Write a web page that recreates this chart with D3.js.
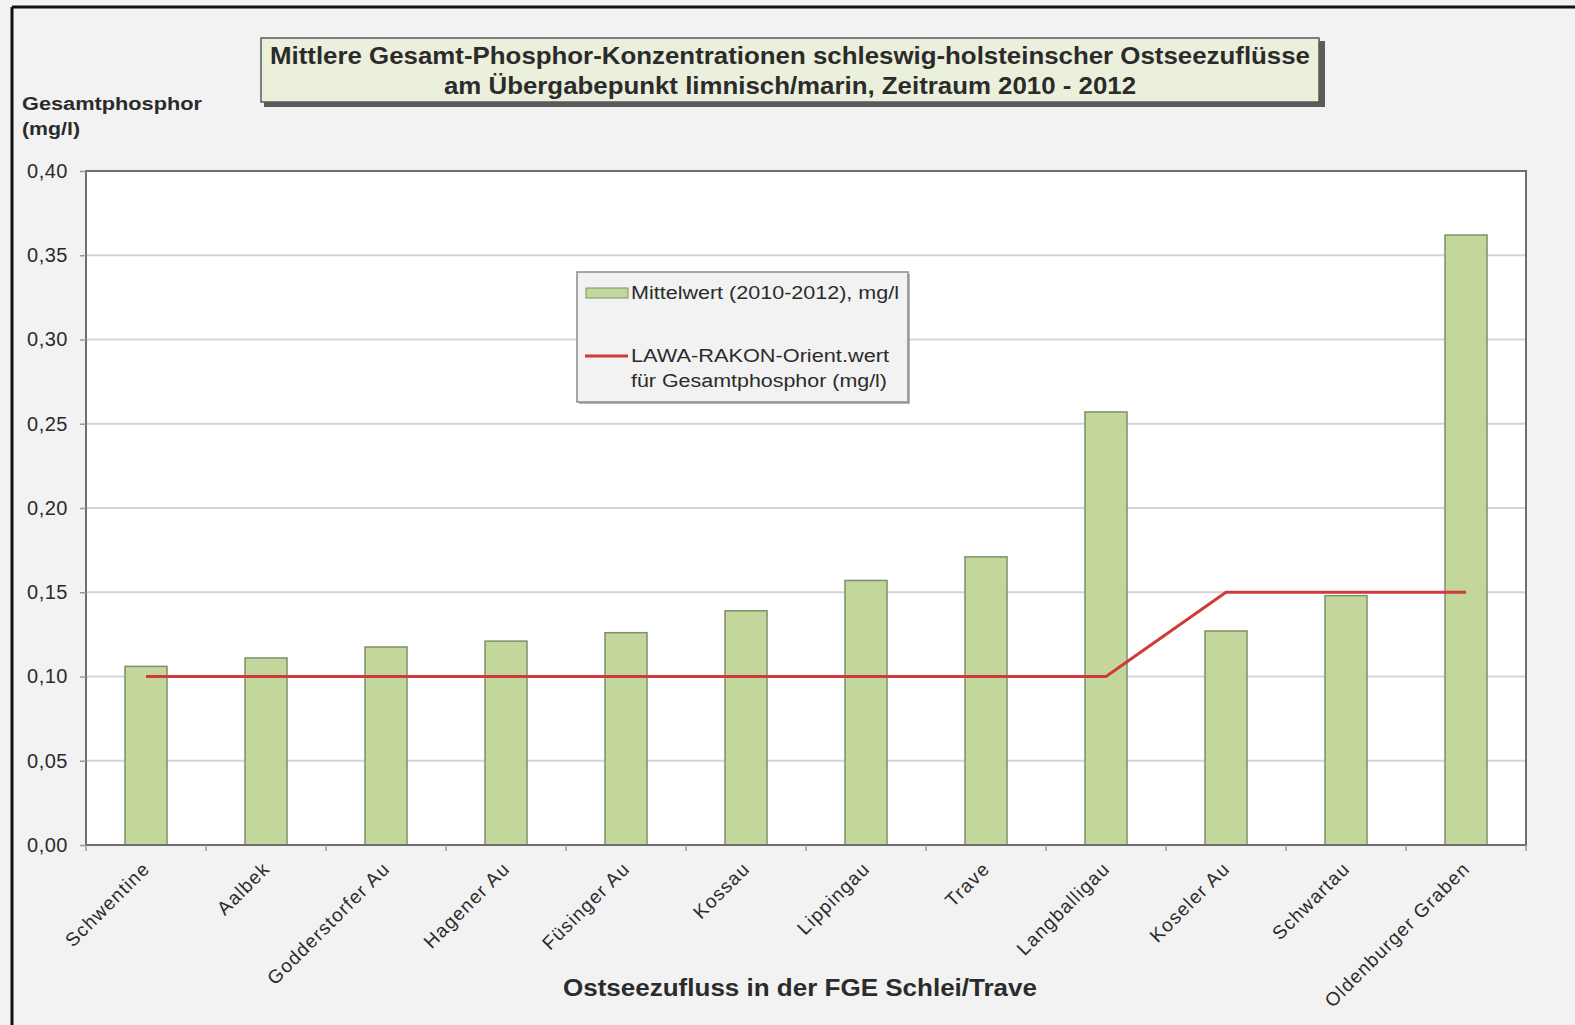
<!DOCTYPE html>
<html>
<head>
<meta charset="utf-8">
<script src="https://cdn.jsdelivr.net/npm/d3@7"></script>
<style>
  html, body { margin: 0; padding: 0; background: #f2f2f2; }
  svg { display: block; }
  text { font-family: "Liberation Sans", Arial, sans-serif; fill: #2b2b2b; }
</style>
</head>
<body>
<svg id="chart" width="1575" height="1025"></svg>
<script>
// Ostseezuflüsse (FGE Schlei/Trave), mean total phosphorus 2010–2012
const rivers = ["Schwentine", "Aalbek", "Godderstorfer Au", "Hagener Au", "Füsinger Au",
  "Kossau", "Lippingau", "Trave", "Langballigau", "Koseler Au", "Schwartau", "Oldenburger Graben"];
const meanValues = [0.106, 0.111, 0.1175, 0.121, 0.126, 0.139, 0.157, 0.171, 0.257, 0.127, 0.148, 0.362];
// LAWA-RAKON orientation value per river
const orientValues = [0.10, 0.10, 0.10, 0.10, 0.10, 0.10, 0.10, 0.10, 0.10, 0.15, 0.15, 0.15];
const yTicks = [0, 0.05, 0.10, 0.15, 0.20, 0.25, 0.30, 0.35, 0.40];

const titleLines = ["Mittlere Gesamt-Phosphor-Konzentrationen  schleswig-holsteinscher Ostseezuflüsse",
  "am Übergabepunkt limnisch/marin, Zeitraum 2010 - 2012"];
const yTitle = ["Gesamtphosphor", "(mg/l)"];
const xTitle = "Ostseezufluss in der FGE Schlei/Trave";
const legendBar = "Mittelwert (2010-2012), mg/l";
const legendLine = ["LAWA-RAKON-Orient.wert", "für Gesamtphosphor (mg/l)"];

const svg = d3.select("#chart");
const plot = { left: 86, right: 1526, top: 171, bottom: 845 };

// outer frame (top and left edges)
svg.append("line").attr("x1", 12).attr("x2", 1575).attr("y1", 7).attr("y2", 7)
  .attr("stroke", "#111").attr("stroke-width", 3);
svg.append("line").attr("x1", 12).attr("x2", 12).attr("y1", 7).attr("y2", 1025)
  .attr("stroke", "#111").attr("stroke-width", 3);

const x = d3.scaleBand().domain(rivers).range([plot.left, plot.right]).paddingInner(0.65).paddingOuter(0.325);
const y = d3.scaleLinear().domain([0, 0.40]).range([plot.bottom, plot.top]);
const fmt = d => d3.format(".2f")(d).replace(".", ",");

// plot background
svg.append("rect").attr("x", plot.left).attr("y", plot.top)
  .attr("width", plot.right - plot.left).attr("height", plot.bottom - plot.top)
  .attr("fill", "#ffffff");

// horizontal gridlines
svg.append("g").selectAll("line").data(yTicks.filter(d => d > 0 && d < 0.40)).join("line")
  .attr("x1", plot.left).attr("x2", plot.right)
  .attr("y1", d => y(d)).attr("y2", d => y(d))
  .attr("stroke", "#d4d4d4").attr("stroke-width", 2);

// bars
svg.append("g").selectAll("rect").data(meanValues).join("rect")
  .attr("x", (d, i) => x(rivers[i]))
  .attr("y", d => y(d))
  .attr("width", x.bandwidth())
  .attr("height", d => y(0) - y(d))
  .attr("fill", "#c3d69b")
  .attr("stroke", "#7f8f6a").attr("stroke-width", 1.5);

// orientation value line
const line = d3.line()
  .x((d, i) => x(rivers[i]) + x.bandwidth() / 2)
  .y(d => y(d));
svg.append("path").datum(orientValues).attr("d", line)
  .attr("fill", "none").attr("stroke", "#d03a3a").attr("stroke-width", 3);

// plot frame
svg.append("rect").attr("x", plot.left).attr("y", plot.top)
  .attr("width", plot.right - plot.left).attr("height", plot.bottom - plot.top)
  .attr("fill", "none").attr("stroke", "#6e6e6e").attr("stroke-width", 2);

// y axis
const yAxis = svg.append("g").attr("transform", `translate(${plot.left},0)`)
  .call(d3.axisLeft(y).tickValues(yTicks).tickFormat(fmt).tickSize(6).tickPadding(12));
yAxis.select(".domain").remove();
yAxis.selectAll(".tick line").attr("stroke", "#9a9a9a").attr("stroke-width", 1.5);
yAxis.selectAll(".tick text").attr("font-size", 20).attr("fill", "#2b2b2b")
  .style("letter-spacing", "0.5px")
  .style("font-family", "'Liberation Sans', Arial, sans-serif");

// x axis: ticks between categories
const boundaries = d3.range(rivers.length + 1).map(i => plot.left + i * x.step());
svg.append("g").selectAll("line").data(boundaries).join("line")
  .attr("x1", d => d).attr("x2", d => d)
  .attr("y1", plot.bottom).attr("y2", plot.bottom + 6)
  .attr("stroke", "#9a9a9a").attr("stroke-width", 1.5);

// category labels
svg.append("g").selectAll("text").data(rivers).join("text")
  .attr("transform", d => `translate(${x(d) + x.bandwidth() / 2 + 5},${plot.bottom + 25}) rotate(-45)`)
  .attr("text-anchor", "end")
  .attr("font-size", 19)
  .style("letter-spacing", "1.2px")
  .text(d => d);

// axis titles
svg.append("text").attr("x", 800).attr("y", 996).attr("text-anchor", "middle")
  .attr("font-size", 23).attr("font-weight", "bold")
  .attr("textLength", 474).attr("lengthAdjust", "spacingAndGlyphs").text(xTitle);
svg.append("g").selectAll("text").data(yTitle).join("text")
  .attr("x", 22).attr("y", (d, i) => 110 + i * 25)
  .attr("font-size", 18).attr("font-weight", "bold")
  .attr("textLength", (d, i) => i === 0 ? 180 : 58).attr("lengthAdjust", "spacingAndGlyphs")
  .text(d => d);

// title box with shadow
svg.append("rect").attr("x", 264).attr("y", 41).attr("width", 1061).attr("height", 66).attr("fill", "#5a5a5a");
svg.append("rect").attr("x", 261).attr("y", 38).attr("width", 1058).attr("height", 64)
  .attr("fill", "#ebf0dc").attr("stroke", "#5a5a5a").attr("stroke-width", 1.5);
svg.append("g").selectAll("text").data(titleLines).join("text")
  .attr("x", 790).attr("y", (d, i) => 64 + i * 30).attr("text-anchor", "middle")
  .attr("font-size", 23).attr("font-weight", "bold").attr("fill", "#111")
  .attr("textLength", (d, i) => i === 0 ? 1040 : 692).attr("lengthAdjust", "spacingAndGlyphs")
  .text(d => d);

// legend
const lg = svg.append("g").attr("transform", "translate(577,272)");
lg.append("rect").attr("x", 2).attr("y", 2).attr("width", 331).attr("height", 130).attr("fill", "#b5b5b5");
lg.append("rect").attr("width", 331).attr("height", 130)
  .attr("fill", "#f2f2f2").attr("stroke", "#8c8c8c").attr("stroke-width", 1.5);
lg.append("rect").attr("x", 9).attr("y", 16).attr("width", 42).attr("height", 10)
  .attr("fill", "#c3d69b").attr("stroke", "#7f8f6a").attr("stroke-width", 1);
lg.append("text").attr("x", 54).attr("y", 27).attr("font-size", 18)
  .attr("textLength", 268).attr("lengthAdjust", "spacingAndGlyphs").text(legendBar);
lg.append("line").attr("x1", 8).attr("x2", 51).attr("y1", 84).attr("y2", 84)
  .attr("stroke", "#d03a3a").attr("stroke-width", 3);
lg.append("g").selectAll("text").data(legendLine).join("text")
  .attr("x", 54).attr("y", (d, i) => 90 + i * 25).attr("font-size", 18)
  .attr("textLength", (d, i) => i === 0 ? 258 : 256).attr("lengthAdjust", "spacingAndGlyphs")
  .text(d => d);
</script>
</body>
</html>
